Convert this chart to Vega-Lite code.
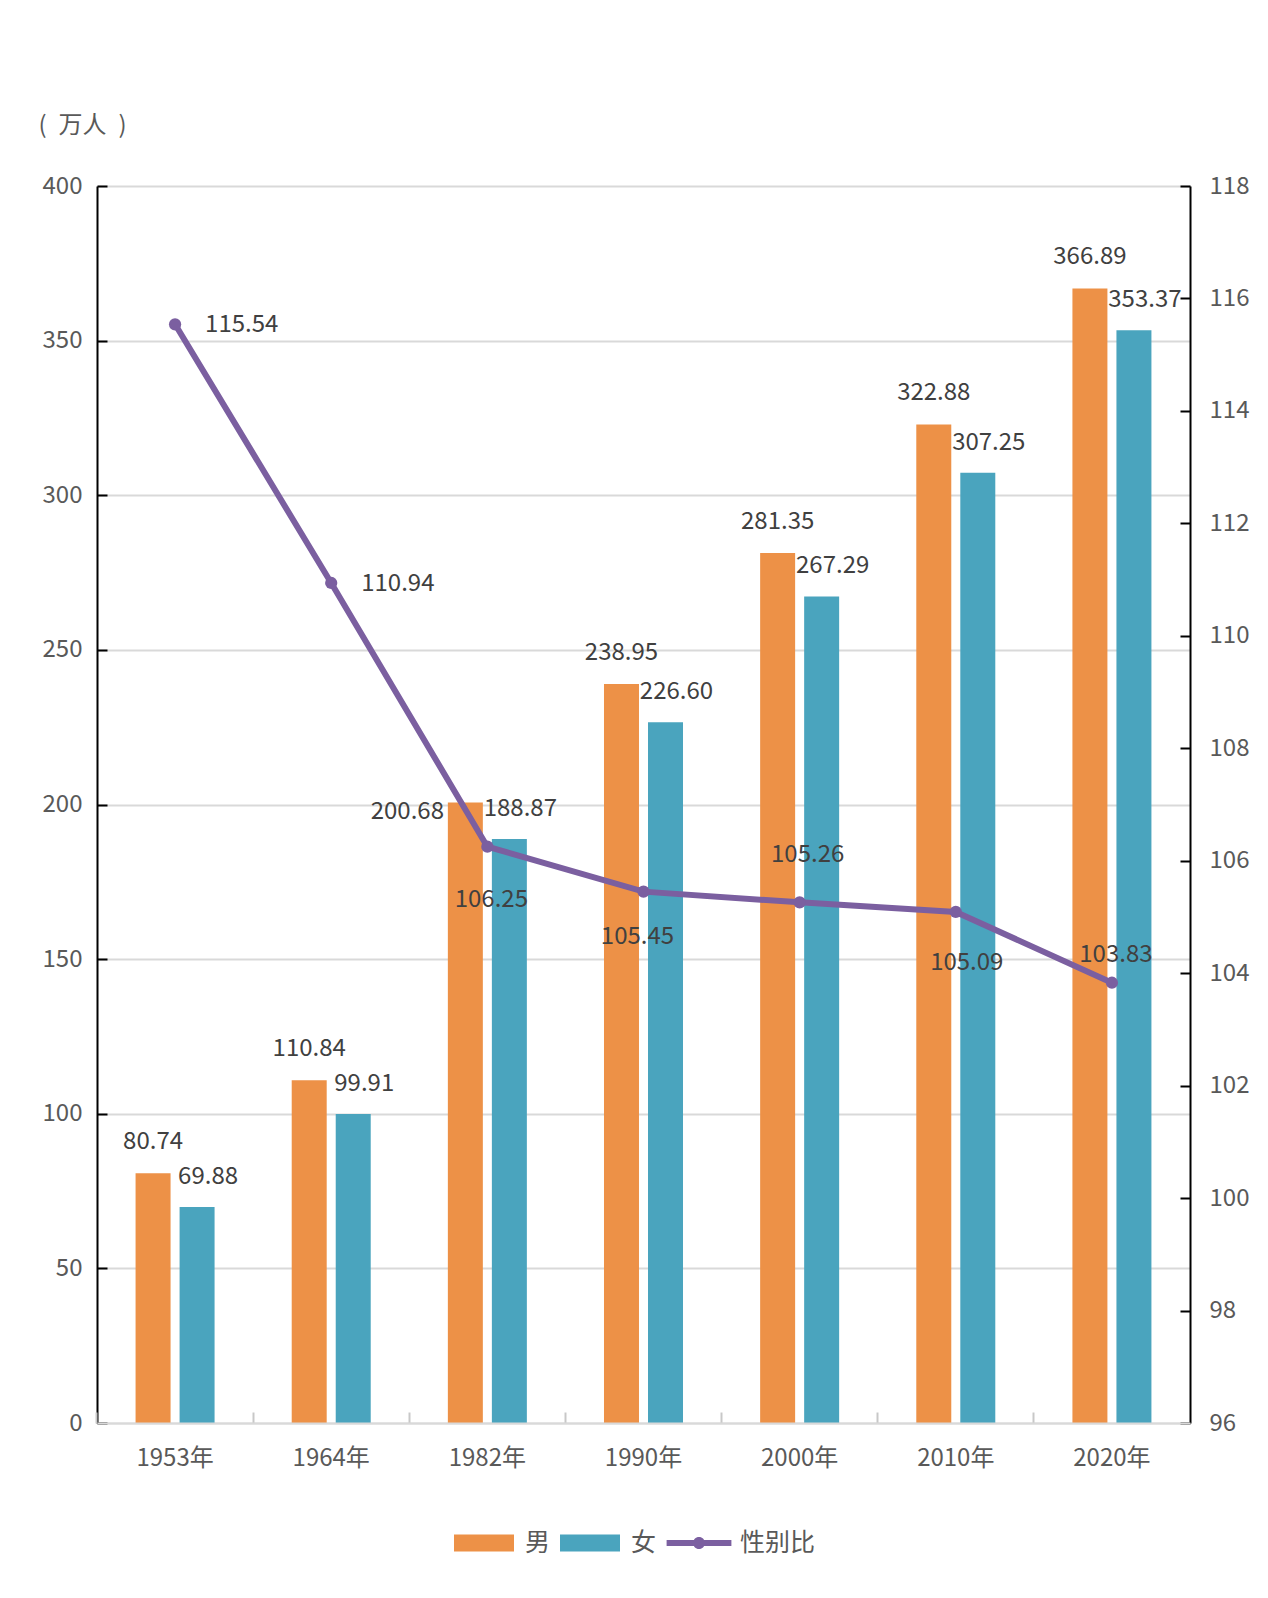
{
  "$schema": "https://vega.github.io/schema/vega-lite/v6.json",
  "description": "男女人口与性别比，1953-2020年",
  "autosize": {"type": "none"},
  "padding": {"left": 97, "top": 186, "right": 78, "bottom": 175},
  "width": 1093,
  "height": 1237,
  "background": "white",
  "config": {
    "view": {"stroke": null},
    "font": "Noto Sans CJK SC",
    "text": {"font": "Noto Sans CJK SC", "fontSize": 24, "color": "#404040"},
    "axis": {"labelFont": "Noto Sans CJK SC", "labelFontSize": 24, "labelColor": "#595959", "titleFont": "Noto Sans CJK SC"}
  },
  "datasets": {
    "pop": [
      {"year": "1953年", "sex": "男", "value": 80.74},
      {"year": "1953年", "sex": "女", "value": 69.88},
      {"year": "1964年", "sex": "男", "value": 110.84},
      {"year": "1964年", "sex": "女", "value": 99.91},
      {"year": "1982年", "sex": "男", "value": 200.68},
      {"year": "1982年", "sex": "女", "value": 188.87},
      {"year": "1990年", "sex": "男", "value": 238.95},
      {"year": "1990年", "sex": "女", "value": 226.60},
      {"year": "2000年", "sex": "男", "value": 281.35},
      {"year": "2000年", "sex": "女", "value": 267.29},
      {"year": "2010年", "sex": "男", "value": 322.88},
      {"year": "2010年", "sex": "女", "value": 307.25},
      {"year": "2020年", "sex": "男", "value": 366.89},
      {"year": "2020年", "sex": "女", "value": 353.37}
    ],
    "ratio": [
      {"year": "1953年", "ratio": 115.54},
      {"year": "1964年", "ratio": 110.94},
      {"year": "1982年", "ratio": 106.25},
      {"year": "1990年", "ratio": 105.45},
      {"year": "2000年", "ratio": 105.26},
      {"year": "2010年", "ratio": 105.09},
      {"year": "2020年", "ratio": 103.83}
    ]
  },
  "encoding": {
    "x": {
      "field": "year",
      "type": "nominal",
      "sort": null,
      "scale": {"paddingInner": 0.494, "paddingOuter": 0.247},
      "axis": {
        "title": null,
        "labelAngle": 0,
        "domainColor": "#D9D9D9",
        "domainWidth": 2,
        "ticks": true,
        "tickColor": "#C8C8C8",
        "tickWidth": 2,
        "tickSize": -11,
        "bandPosition": -0.4885,
        "labelPadding": 46,
        "labelBaseline": "middle",
        "zindex": 1
      }
    }
  },
  "layer": [
    {
      "data": {"name": "pop"},
      "encoding": {
        "xOffset": {"field": "sex", "type": "nominal", "sort": ["男", "女"], "scale": {"paddingInner": 0.205, "paddingOuter": 0}},
        "y": {
          "field": "value",
          "type": "quantitative",
          "scale": {"domain": [0, 400], "nice": false},
          "axis": {
            "orient": "left",
            "values": [0, 50, 100, 150, 200, 250, 300, 350, 400],
            "title": "(\u2002万人\u2002)",
            "titleAngle": 0,
            "titleAlign": "left",
            "titleBaseline": "middle",
            "titleX": -59,
            "titleY": -61,
            "titleFontSize": 24,
            "titleFontWeight": "normal",
            "titleColor": "#595959",
            "domainColor": "black",
            "domainWidth": 2,
            "tickColor": "black",
            "tickWidth": 2,
            "tickSize": -10,
            "labelPadding": 25,
            "grid": true,
            "gridColor": "#D9D9D9",
            "gridWidth": 2
          }
        }
      },
      "layer": [
        {
          "mark": {"type": "bar"},
          "encoding": {
            "color": {
              "field": "sex",
              "type": "nominal",
              "scale": {"domain": ["男", "女", "性别比"], "range": ["#ED9147", "#4AA4BE", "#7B5FA0"]},
              "legend": {
                "title": null,
                "orient": "none",
                "direction": "horizontal",
                "legendX": 357,
                "legendY": 1327,
                "padding": 0,
                "symbolSize": 3600,
                "symbolStrokeWidth": 0,
                "labelFont": "Noto Sans CJK SC",
                "labelFontSize": 25,
                "labelColor": "#595959",
                "labelOffset": 11,
                "columnPadding": 9,
                "encode": {
                  "symbols": {
                    "update": {
                      "shape": {"signal": "datum.value === '性别比' ? 'M-1.08,-0.1H1.08V0.1H-1.08Z M-0.2,0A0.2,0.2,0,1,1,0.2,0A0.2,0.2,0,1,1,-0.2,0Z' : 'M-1,-0.283H1V0.283H-1Z'"},
                      "fill": {"scale": "color", "field": "value"},
                      "strokeWidth": {"value": 0},
                      "opacity": {"value": 1}
                    }
                  }
                }
              }
            }
          }
        },
        {
          "transform": [{"filter": "datum.sex === '男' && datum.year !== '1982年'"}],
          "mark": {"type": "text", "baseline": "middle", "dy": -31},
          "encoding": {"text": {"field": "value", "type": "quantitative", "format": ".2f"}}
        },
        {
          "transform": [{"filter": "datum.sex === '男' && datum.year === '1982年'"}],
          "mark": {"type": "text", "baseline": "middle", "dx": -58, "dy": 10},
          "encoding": {"text": {"field": "value", "type": "quantitative", "format": ".2f"}}
        },
        {
          "transform": [{"filter": "datum.sex === '女'"}],
          "mark": {"type": "text", "baseline": "middle", "dx": 11, "dy": -30},
          "encoding": {"text": {"field": "value", "type": "quantitative", "format": ".2f"}}
        }
      ]
    },
    {
      "data": {"name": "ratio"},
      "encoding": {
        "y": {
          "field": "ratio",
          "type": "quantitative",
          "scale": {"domain": [96, 118], "nice": false},
          "axis": {
            "orient": "right",
            "values": [96, 98, 100, 102, 104, 106, 108, 110, 112, 114, 116, 118],
            "title": null,
            "domainColor": "black",
            "domainWidth": 2,
            "tickColor": "black",
            "tickWidth": 2,
            "tickSize": -10,
            "labelPadding": 29,
            "grid": false
          }
        }
      },
      "layer": [
        {
          "mark": {"type": "line", "strokeWidth": 6},
          "encoding": {"color": {"datum": "性别比"}}
        },
        {
          "mark": {"type": "point", "filled": true, "size": 150, "opacity": 1},
          "encoding": {"color": {"datum": "性别比"}}
        },
        {
          "transform": [{"filter": "datum.year === '1953年' || datum.year === '1964年'"}],
          "mark": {"type": "text", "align": "left", "baseline": "middle", "dx": 30, "dy": 1},
          "encoding": {"text": {"field": "ratio", "type": "quantitative", "format": ".2f"}}
        },
        {
          "transform": [{"filter": "datum.year === '1982年'"}],
          "mark": {"type": "text", "baseline": "middle", "dx": 4, "dy": 53},
          "encoding": {"text": {"field": "ratio", "type": "quantitative", "format": ".2f"}}
        },
        {
          "transform": [{"filter": "datum.year === '1990年'"}],
          "mark": {"type": "text", "baseline": "middle", "dx": -6, "dy": 45},
          "encoding": {"text": {"field": "ratio", "type": "quantitative", "format": ".2f"}}
        },
        {
          "transform": [{"filter": "datum.year === '2000年'"}],
          "mark": {"type": "text", "baseline": "middle", "dx": 8, "dy": -47},
          "encoding": {"text": {"field": "ratio", "type": "quantitative", "format": ".2f"}}
        },
        {
          "transform": [{"filter": "datum.year === '2010年'"}],
          "mark": {"type": "text", "baseline": "middle", "dx": 11, "dy": 51},
          "encoding": {"text": {"field": "ratio", "type": "quantitative", "format": ".2f"}}
        },
        {
          "transform": [{"filter": "datum.year === '2020年'"}],
          "mark": {"type": "text", "baseline": "middle", "dx": 4, "dy": -28},
          "encoding": {"text": {"field": "ratio", "type": "quantitative", "format": ".2f"}}
        }
      ]
    }
  ],
  "resolve": {"scale": {"y": "independent"}, "axis": {"y": "independent"}}
}
